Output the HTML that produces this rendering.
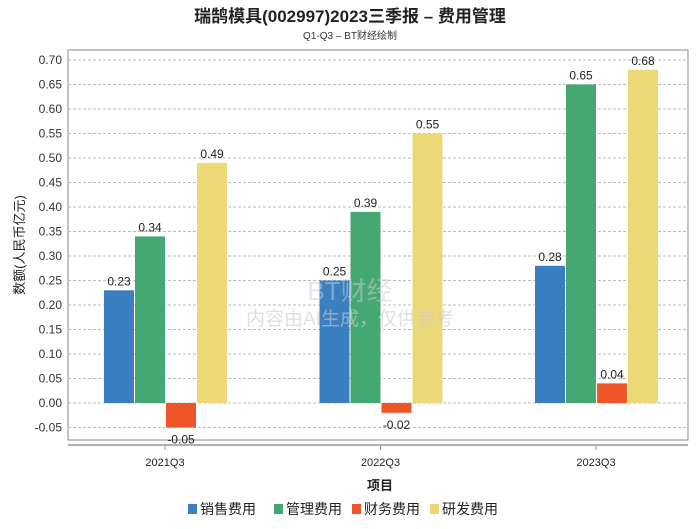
<!DOCTYPE html>
<html><head><meta charset="utf-8"><style>
body{margin:0;background:#fff;font-family:"Liberation Sans","Noto Sans CJK SC",sans-serif;}
svg text{font-family:"Liberation Sans","Noto Sans CJK SC",sans-serif;}
</style></head><body>
<svg id="c" width="700" height="524" xmlns="http://www.w3.org/2000/svg">
<text x="350" y="22" text-anchor="middle" font-size="17" font-weight="bold" fill="#222">瑞鹄模具(002997)2023三季报 – 费用管理</text>
<text x="350" y="39" text-anchor="middle" font-size="10" fill="#333">Q1-Q3 – BT财经绘制</text>
<rect x="68" y="50" width="620" height="390" fill="none" stroke="#888"/>
<line x1="68" y1="445" x2="688" y2="445" stroke="#999" stroke-width="1.5"/>
<g id="grid"></g><g id="bars"></g><g id="labels"></g>
<text x="350" y="300" text-anchor="middle" font-size="26" fill="#ccd" opacity="0.5">BT财经</text>
<text x="350" y="325" text-anchor="middle" font-size="19" fill="#ccc" opacity="0.6">内容由AI生成，仅供参考</text>
<text transform="translate(24,245) rotate(-90)" text-anchor="middle" font-size="13" fill="#222">数额(人民币亿元)</text>
<text x="380" y="490" text-anchor="middle" font-size="13" font-weight="bold" fill="#222">项目</text>
<g id="legend"></g>
</svg>
<script>
const categories=["2021Q3","2022Q3","2023Q3"];
const seriesNames=["销售费用","管理费用","财务费用","研发费用"];
const colors=["#3a7fbf","#45a872","#ee5528","#ecd877"];
const sales=[0.23,0.25,0.28];
const admin=[0.34,0.39,0.65];
const fin=[-0.05,-0.02,0.04];
const rnd=[0.49,0.55,0.68];
const yTicks=[-0.05,0,0.05,0.1,0.15,0.2,0.25,0.3,0.35,0.4,0.45,0.5,0.55,0.6,0.65,0.7];
const series=[sales,admin,fin,rnd];
const NS="http://www.w3.org/2000/svg";
function y(v){return 403-v*(343/0.7);}
function xc(i){return 165+i*215.5;}
function mk(t,a,p){const e=document.createElementNS(NS,t);for(const k in a)e.setAttribute(k,a[k]);document.getElementById(p).appendChild(e);return e;}
yTicks.forEach(v=>{
 const l=mk("line",{x1:68,x2:688,y1:y(v),y2:y(v),stroke:"#bbb","stroke-dasharray":"3,2"},"grid");
 
 
 const t=mk("text",{x:62,y:y(v)+4,"text-anchor":"end","font-size":"12",fill:"#333"},"grid");
 t.textContent=v.toFixed(2);
 
 
});
categories.forEach((c,i)=>{
 const t=mk("text",{x:xc(i),y:466,"text-anchor":"middle","font-size":"11",fill:"#222"},"grid");
 t.textContent=c;
 
 
 mk("line",{x1:xc(i),x2:xc(i),y1:445,y2:450,stroke:"#999"},"grid");
 series.forEach((s,j)=>{
  const v=s[i],x0=xc(i)-61+j*31;
  const r=mk("rect",{x:x0,y:Math.min(y(v),y(0)),width:30,height:Math.abs(y(v)-y(0)),fill:colors[j]},"bars");
  
  
  const ty=v>=0?y(v)-5:y(v)+16;
  const t=mk("text",{x:x0+15,y:ty,"text-anchor":"middle","font-size":"12",fill:"#222"},"labels");
  t.textContent=v.toFixed(2);
  
  
 });
});
const lx=[188,274,352,430];
seriesNames.forEach((n,j)=>{
 const r=mk("rect",{x:lx[j],y:504,width:9,height:10,fill:colors[j]},"legend");
 
 
 const t=mk("text",{x:lx[j]+12,y:514,"font-size":"14",fill:"#222"},"legend");
 t.textContent=n;
 
 
});
</script>
</body></html>
